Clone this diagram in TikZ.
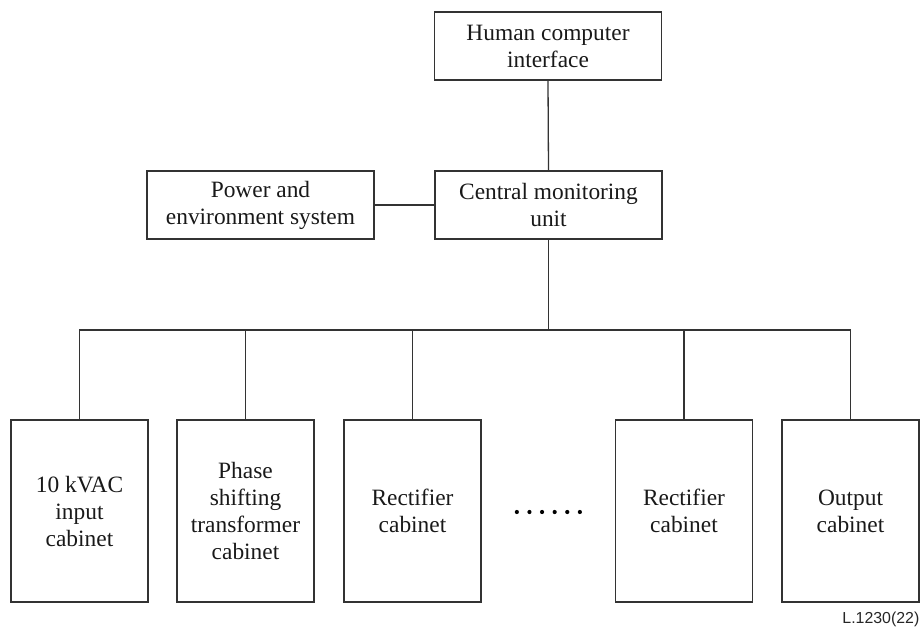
\documentclass[tikz,border=0pt]{standalone}
\usepackage{fontspec}
\setmainfont{Liberation Serif}
\newfontfamily\labelfont{Liberation Sans}
\usetikzlibrary{calc}
\begin{document}
\begin{tikzpicture}[x=1pt,y=-1pt,
  line width=1.3pt,
  unitbox/.style={draw=black!80, line width=1.3pt, rectangle, inner sep=0pt,
    align=center, font=\fontsize{23.4}{27}\selectfont, text=black!90},
  topbox/.style={unitbox, minimum width=227pt, minimum height=68pt},
  cabinet/.style={unitbox, minimum width=137pt, minimum height=182pt},
  link/.style={draw=black!80, line width=1.3pt}]
  \useasboundingbox (0,0) rectangle (921,628);

  % upper level
  \node[topbox] (hci) at (548,46) {Human computer\\interface};
  \node[topbox] (cmu) at (548.5,205) {Central monitoring\\unit};
  \node[topbox] (pes) at (260.5,205) {Power and\\environment system};

  % cabinets
  \node[cabinet] (c1) at (79.5,511) {10 kVAC\\input\\cabinet};
  \node[cabinet] (c2) at (245.5,511) {Phase\\shifting\\transformer\\cabinet};
  \node[cabinet] (c3) at (412.5,511) {Rectifier\\cabinet};
  \node[cabinet] (c4) at (684,511) {Rectifier\\cabinet};
  \node[cabinet] (c5) at (850.5,511) {Output\\cabinet};

  % bus level
  \coordinate (bus) at (548,330);

  \draw[link] (hci.south) -- (cmu.north);
  \draw[link] (pes.east) -- (cmu.west);
  \draw[link] (cmu.south) -- (cmu.south |- bus);
  \draw[link] (c1.north) |- (bus) -| (c5.north);
  \foreach \c in {c2,c3,c4}
    \draw[link] (\c.north) -- (\c.north |- bus);

  % ellipsis between the rectifier cabinets
  \node[inner sep=0pt, minimum width=70pt, minimum height=6pt] (dots) at (548,512) {};
  \foreach \i in {0,...,5}
    \fill[black] ($(dots.west)+(4.5+12.6*\i,0)$) circle (2.1pt);

  \node[anchor=base east, inner sep=0pt, font=\labelfont\fontsize{15.9}{18}\selectfont, text=black!85] (tag) at (920,623) {L.1230(22)};
\end{tikzpicture}
\end{document}
